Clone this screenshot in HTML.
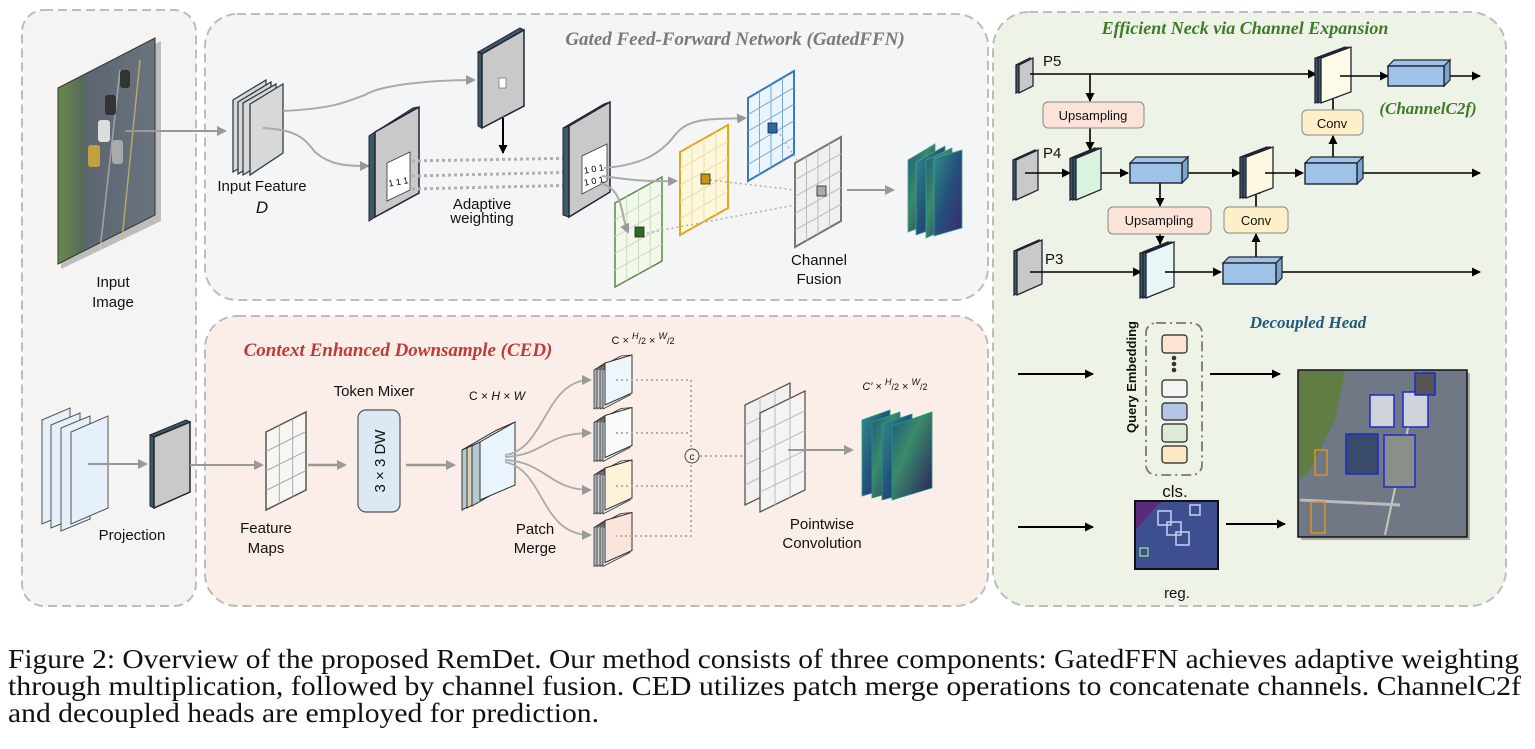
<!DOCTYPE html>
<html><head><meta charset="utf-8">
<style>
html,body{margin:0;padding:0;background:#fff;}
svg{display:block;}
text{font-family:"Liberation Sans",Arial,sans-serif;}
.t16{font-size:15px;fill:#111;}
text.ser,.ser text{font-family:"Liberation Serif","Times New Roman",serif;}
</style></head>
<body>
<svg id="s" width="1535" height="749" viewBox="0 0 1535 749" xmlns="http://www.w3.org/2000/svg">
<defs>
<marker id="ag" markerWidth="10" markerHeight="10" refX="8" refY="5" orient="auto" markerUnits="userSpaceOnUse"><path d="M0,0 L10,5 L0,10 z" fill="#999"/></marker>
<marker id="ab" markerWidth="9" markerHeight="9" refX="8" refY="4.5" orient="auto" markerUnits="userSpaceOnUse"><path d="M0,0 L9,4.5 L0,9 z" fill="#000"/></marker>
<linearGradient id="fm" x1="0" y1="0" x2="1" y2="1"><stop offset="0" stop-color="#2f8f8a"/><stop offset="0.5" stop-color="#24507a"/><stop offset="1" stop-color="#3a2a70"/></linearGradient>
<linearGradient id="fm2" x1="0" y1="0" x2="1" y2="1"><stop offset="0" stop-color="#1d5a7c"/><stop offset="0.4" stop-color="#3a8a6a"/><stop offset="1" stop-color="#2a1f60"/></linearGradient>
<linearGradient id="img" x1="0" y1="0" x2="1" y2="0"><stop offset="0" stop-color="#6b8a4a"/><stop offset="0.25" stop-color="#566a5a"/><stop offset="0.3" stop-color="#5d6670"/><stop offset="1" stop-color="#6a737e"/></linearGradient>
</defs>

<rect x="22" y="10" width="174" height="596" rx="22" fill="#f5f4f2" stroke="#bdbdbd" stroke-width="2" stroke-dasharray="9,5"/>
<rect x="205" y="14" width="783" height="286" rx="32" fill="#f4f5f7" stroke="#bdbdbd" stroke-width="2" stroke-dasharray="9,5"/>
<rect x="205" y="316" width="783" height="290" rx="32" fill="#fbeee8" stroke="#bdbdbd" stroke-width="2" stroke-dasharray="9,5"/>
<rect x="993" y="12" width="513" height="594" rx="36" fill="#eef3e8" stroke="#bdbdbd" stroke-width="2" stroke-dasharray="9,5"/>

<polygon points="58,88 158,38 158,218 58,266" fill="#555" opacity="0.35" transform="translate(3,3)"/>
<polygon points="58,88 155,38 155,215 58,264" fill="url(#img)" stroke="#333" stroke-width="1"/>
<line x1="120" y1="70" x2="100" y2="250" stroke="#ccc" stroke-width="1.5" opacity="0.6"/>
<line x1="140" y1="60" x2="122" y2="240" stroke="#d8c070" stroke-width="1.5" opacity="0.7"/>
<rect x="98" y="120" width="12" height="22" rx="3" fill="#ddd"/>
<rect x="105" y="95" width="11" height="20" rx="3" fill="#333"/>
<rect x="88" y="145" width="12" height="22" rx="3" fill="#c0a040"/>
<rect x="112" y="140" width="11" height="24" rx="3" fill="#aaa"/>
<rect x="120" y="70" width="10" height="18" rx="3" fill="#333"/>
<line x1="125" y1="131" x2="225" y2="131" stroke="#999" stroke-width="2" marker-end="url(#ag)"/>
<text x="113" y="287" class="t16" text-anchor="middle">Input</text>
<text x="113" y="307" class="t16" text-anchor="middle">Image</text>
<g fill="#e6f0fb" stroke="#555" stroke-width="1">
<polygon points="42,420 70,408 70,512 42,524"/>
<polygon points="51,425 80,413 80,516 51,528"/>
<polygon points="61,428 90,416 90,519 61,531"/>
<polygon points="71,432 108,416 108,508 71,524"/>
</g>
<line x1="88" y1="464" x2="146" y2="464" stroke="#999" stroke-width="2" marker-end="url(#ag)"/>
<polygon points="150,435 186,420 190,422 154,437" fill="#3c5a66" stroke="#223"/>
<polygon points="150,435 154,437 154,508 150,506" fill="#3c5a66" stroke="#223"/>
<polygon points="154,437 190,422 190,492 154,508" fill="#c9c9c9" stroke="#223" stroke-width="1.5"/>
<line x1="190" y1="465" x2="262" y2="465" stroke="#999" stroke-width="2" marker-end="url(#ag)"/>
<text x="132" y="540" class="t16" text-anchor="middle">Projection</text>

<text x="735" y="45" class="ser" font-size="19" font-style="italic" font-weight="bold" fill="#7a7a7a" text-anchor="middle">Gated Feed-Forward Network (GatedFFN)</text>
<g fill="#d8d8d8" stroke="#2f3e46" stroke-width="1.3">
<polygon points="233,100 266,80 266,152 233,172"/>
<polygon points="238,102 271,82 271,154 238,174"/>
<polygon points="243,103 276,84 276,155 243,175"/>
<polygon points="250,104 283,84 283,153 250,175"/>
</g>
<text x="262" y="191" class="t16" text-anchor="middle" font-size="13">Input Feature</text>
<text x="262" y="213" font-size="17" font-style="italic" text-anchor="middle" fill="#111">D</text>
<path d="M283,111 C340,108 350,100 365,95 C380,85 430,80 474,80" fill="none" stroke="#aaa" stroke-width="2" marker-end="url(#ag)"/>
<path d="M263,128 C300,130 305,140 315,152 C330,165 345,166 368,166" fill="none" stroke="#aaa" stroke-width="2" marker-end="url(#ag)"/>
<polygon points="369,136 413,108 419,107 375,132" fill="#3c5a66" stroke="#223"/>
<polygon points="369,136 375,132 375,217 369,221" fill="#3c5a66" stroke="#223"/>
<polygon points="375,132 419,107 419,193 375,217" fill="#c9c9c9" stroke="#223" stroke-width="1.5"/>
<polygon points="387,163 410,152 410,190 387,201" fill="#fff" stroke="#333" stroke-width="0.8"/>
<text x="398" y="185" font-size="9" text-anchor="middle" fill="#000" transform="rotate(-10 398 180)">1 1 1</text>
<polygon points="478,52 520,28 524,30 482,54" fill="#3c5a66" stroke="#223"/>
<polygon points="478,52 482,54 482,128 478,126" fill="#3c5a66" stroke="#223"/>
<polygon points="482,54 524,30 524,106 482,128" fill="#c9c9c9" stroke="#223" stroke-width="1.5"/>
<rect x="499" y="78" width="7" height="10" fill="#fff" stroke="#555" stroke-width="0.6"/>
<line x1="503" y1="118" x2="503" y2="153" stroke="#000" stroke-width="2" marker-end="url(#ab)"/>
<g stroke="#b0b0b0" stroke-width="3" stroke-dasharray="3,3">
<line x1="412" y1="161" x2="582" y2="158"/>
<line x1="412" y1="176" x2="582" y2="172"/>
<line x1="412" y1="189" x2="582" y2="185"/>
</g>
<text x="482" y="209" class="t16" text-anchor="middle" font-size="13">Adaptive</text>
<text x="482" y="223" class="t16" text-anchor="middle" font-size="13">weighting</text>
<polygon points="563,128 604,104 610,102 569,126" fill="#3c5a66" stroke="#223"/>
<polygon points="563,128 569,126 569,217 563,215" fill="#3c5a66" stroke="#223"/>
<polygon points="569,126 610,102 610,192 569,217" fill="#c9c9c9" stroke="#223" stroke-width="1.5"/>
<polygon points="582,156 607,144 607,181 582,194" fill="#fff" stroke="#333" stroke-width="0.8"/>
<text x="594" y="172" font-size="9" text-anchor="middle" transform="rotate(-10 594 170)">1 0 1</text>
<text x="594" y="184" font-size="9" text-anchor="middle" transform="rotate(-10 594 182)">1 0 1</text>
<g id="grids"></g>
<path d="M604,168 C640,165 660,155 675,135 C690,115 720,120 745,118" fill="none" stroke="#aaa" stroke-width="2" marker-end="url(#ag)"/>
<path d="M602,176 C630,180 650,182 676,181" fill="none" stroke="#aaa" stroke-width="2" marker-end="url(#ag)"/>
<path d="M600,183 C625,190 620,215 628,232" fill="none" stroke="#aaa" stroke-width="2" marker-end="url(#ag)"/>
<g stroke="#b0b0b0" stroke-width="1.5" stroke-dasharray="2,3" fill="none">
<line x1="642" y1="234" x2="795" y2="205"/>
<line x1="710" y1="180" x2="795" y2="190"/>
<line x1="777" y1="130" x2="797" y2="160"/>
</g>
<rect x="635" y="227" width="9" height="10" fill="#2f6b25" stroke="#222" stroke-width="0.8"/>
<rect x="701" y="174" width="9" height="10" fill="#c8960a" stroke="#222" stroke-width="0.8"/>
<rect x="768" y="123" width="9" height="10" fill="#2a6aa8" stroke="#222" stroke-width="0.8"/>
<rect x="817" y="186" width="9" height="10" fill="#aaa" stroke="#222" stroke-width="0.8"/>
<text x="819" y="265" class="t16" text-anchor="middle" font-size="14">Channel</text>
<text x="819" y="284" class="t16" text-anchor="middle" font-size="14">Fusion</text>
<line x1="847" y1="190" x2="893" y2="190" stroke="#999" stroke-width="2" marker-end="url(#ag)"/>
<g stroke="#3aa58f" stroke-width="0.8">
<polygon points="908,160 935,144 935,222 908,232" fill="url(#fm2)"/>
<polygon points="916,162 945,146 945,225 916,235" fill="url(#fm)"/>
<polygon points="926,160 952,148 952,226 926,238" fill="url(#fm2)"/>
<polygon points="934,158 962,150 962,228 934,236" fill="url(#fm)"/>
</g>

<text x="398" y="356" class="ser" font-size="19" font-style="italic" font-weight="bold" fill="#c0393b" text-anchor="middle">Context Enhanced Downsample (CED)</text>
<text x="374" y="396" class="t16" text-anchor="middle" font-size="14">Token Mixer</text>
<line x1="308" y1="465" x2="345" y2="465" stroke="#999" stroke-width="2.5" marker-end="url(#ag)"/>
<rect x="358" y="410" width="42" height="102" rx="8" fill="#dce9f5" stroke="#555" stroke-width="1.2"/>
<text x="0" y="0" font-size="15" fill="#111" text-anchor="middle" transform="translate(385 461) rotate(-90)">3 × 3 DW</text>
<line x1="406" y1="465" x2="454" y2="465" stroke="#999" stroke-width="2.5" marker-end="url(#ag)"/>
<text x="266" y="533" class="t16" text-anchor="middle" font-size="15">Feature</text>
<text x="266" y="553" class="t16" text-anchor="middle" font-size="15">Maps</text>
<g stroke="#333" stroke-width="1">
<polygon points="462,450 497,430 497,490 462,510" fill="#b8c8d0"/>
<polygon points="467,448 502,428 502,488 467,508" fill="#d8d0b8"/>
<polygon points="472,446 507,426 507,486 472,506" fill="#b8c8d0"/>
<polygon points="462,450 497,430 515,422 480,442" fill="#f2f2ea"/>
<polygon points="480,442 515,422 515,485 480,500" fill="#eaf4fc"/>
</g>
<text x="497" y="400" font-size="12" text-anchor="middle" fill="#111">C × <tspan font-style="italic">H</tspan> × <tspan font-style="italic">W</tspan></text>
<text x="643" y="344" font-size="11" text-anchor="middle" fill="#111">C × <tspan font-style="italic" font-size="9" dy="-5">H</tspan><tspan font-size="9" dy="5">/2</tspan> × <tspan font-style="italic" font-size="9" dy="-5">W</tspan><tspan font-size="9" dy="5">/2</tspan></text>
<g id="smallstacks"></g>
<path d="M505,455 C545,450 545,380 590,380" fill="none" stroke="#aaa" stroke-width="1.8" marker-end="url(#ag)"/>
<path d="M505,457 C545,455 545,433 590,433" fill="none" stroke="#aaa" stroke-width="1.8" marker-end="url(#ag)"/>
<path d="M505,460 C545,462 550,490 590,490" fill="none" stroke="#aaa" stroke-width="1.8" marker-end="url(#ag)"/>
<path d="M505,462 C545,470 540,535 590,535" fill="none" stroke="#aaa" stroke-width="1.8" marker-end="url(#ag)"/>
<g stroke="#b0b0b0" stroke-width="2" stroke-dasharray="2,3" fill="none">
<path d="M616,380 H691 V536 H616 M616,433 H691 M616,486 H691 M700,456 H745"/>
</g>
<circle cx="692" cy="456" r="7" fill="#fbeee8" stroke="#444" stroke-width="1"/>
<text x="692" y="460" font-size="10" text-anchor="middle" fill="#222">c</text>
<text x="535" y="534" class="t16" text-anchor="middle" font-size="14">Patch</text>
<text x="535" y="553" class="t16" text-anchor="middle" font-size="14">Merge</text>
<line x1="788" y1="450" x2="852" y2="450" stroke="#999" stroke-width="2" marker-end="url(#ag)"/>
<g stroke="#1d9a8a" stroke-width="0.8">
<polygon points="862,420 890,410 890,488 862,496" fill="url(#fm)"/>
<polygon points="872,422 900,412 900,490 872,498" fill="url(#fm2)"/>
<polygon points="882,424 912,414 912,492 882,500" fill="url(#fm)"/>
<polygon points="892,426 932,412 932,488 892,500" fill="url(#fm2)"/>
</g>
<text x="895" y="390" font-size="11" text-anchor="middle" fill="#111"><tspan font-style="italic">C′</tspan> × <tspan font-style="italic" font-size="9" dy="-5">H</tspan><tspan font-size="9" dy="5">/2</tspan> × <tspan font-style="italic" font-size="9" dy="-5">W</tspan><tspan font-size="9" dy="5">/2</tspan></text>
<text x="822" y="529" class="t16" text-anchor="middle" font-size="14">Pointwise</text>
<text x="822" y="548" class="t16" text-anchor="middle" font-size="14">Convolution</text>

<text x="1245" y="34" class="ser" font-size="18" font-style="italic" font-weight="bold" fill="#3e7a2a" text-anchor="middle">Efficient Neck via Channel Expansion</text>
<g id="neck"></g>
<text x="1043" y="66" font-size="15" fill="#111">P5</text>
<text x="1043" y="158" font-size="15" fill="#111">P4</text>
<text x="1045" y="264" font-size="15" fill="#111">P3</text>
<rect x="1043" y="102" width="101" height="26" rx="5" fill="#fbe3d8" stroke="#888"/>
<text x="1093" y="120" font-size="13" text-anchor="middle" fill="#111">Upsampling</text>
<rect x="1108" y="207" width="103" height="27" rx="5" fill="#fbe3d8" stroke="#888"/>
<text x="1159" y="225" font-size="13" text-anchor="middle" fill="#111">Upsampling</text>
<rect x="1302" y="110" width="61" height="25" rx="5" fill="#fdf0c8" stroke="#888"/>
<text x="1332" y="128" font-size="13" text-anchor="middle" fill="#111">Conv</text>
<rect x="1224" y="207" width="64" height="26" rx="5" fill="#fdf0c8" stroke="#888"/>
<text x="1256" y="225" font-size="13" text-anchor="middle" fill="#111">Conv</text>
<text x="1428" y="114" class="ser" font-size="17" font-style="italic" font-weight="bold" fill="#3e7a2a" text-anchor="middle">(ChannelC2f)</text>

<text x="1308" y="328" class="ser" font-size="17" font-style="italic" font-weight="bold" fill="#1f5a7a" text-anchor="middle">Decoupled Head</text>
<line x1="1018" y1="374" x2="1093" y2="374" stroke="#000" stroke-width="2" marker-end="url(#ab)"/>
<line x1="1018" y1="527" x2="1093" y2="527" stroke="#000" stroke-width="2" marker-end="url(#ab)"/>
<text x="0" y="0" font-size="13" font-weight="bold" fill="#111" text-anchor="middle" transform="translate(1136 377) rotate(-90)">Query Embedding</text>
<rect x="1146" y="323" width="56" height="152" rx="10" fill="none" stroke="#777" stroke-width="1.8" stroke-dasharray="10,4,2,4"/>
<rect x="1162" y="335" width="25" height="18" rx="3" fill="#fce3d4" stroke="#222" stroke-width="1.2"/>
<circle cx="1174" cy="358" r="2.3" fill="#333"/><circle cx="1174" cy="364" r="2.3" fill="#333"/><circle cx="1174" cy="370" r="2.3" fill="#333"/>
<rect x="1162" y="380" width="25" height="17" rx="3" fill="#f2f6f4" stroke="#222" stroke-width="1.2"/>
<rect x="1162" y="403" width="25" height="17" rx="3" fill="#b4c4e4" stroke="#222" stroke-width="1.2"/>
<rect x="1162" y="424" width="25" height="18" rx="3" fill="#dcebd8" stroke="#222" stroke-width="1.2"/>
<rect x="1162" y="446" width="25" height="17" rx="3" fill="#fce8c4" stroke="#222" stroke-width="1.2"/>
<text x="1175" y="497" font-size="17" text-anchor="middle" fill="#111">cls.</text>
<line x1="1210" y1="374" x2="1280" y2="374" stroke="#000" stroke-width="2" marker-end="url(#ab)"/>
<line x1="1226" y1="524" x2="1285" y2="524" stroke="#000" stroke-width="2" marker-end="url(#ab)"/>
<rect x="1135" y="501" width="83" height="68" fill="#3d4f8f" stroke="#111" stroke-width="2"/>
<polygon points="1136,502 1160,502 1136,530" fill="#5a2a7a"/>
<g fill="none" stroke="#c8d0f4" stroke-width="1.5">
<rect x="1158" y="511" width="13" height="14"/><rect x="1167" y="522" width="14" height="13"/><rect x="1176" y="532" width="13" height="13"/><rect x="1190" y="505" width="10" height="10"/>
</g>
<rect x="1140" y="548" width="8" height="8" fill="none" stroke="#8c8" stroke-width="1.5"/>
<text x="1177" y="598" font-size="15" text-anchor="middle" fill="#111">reg.</text>
<rect x="1301" y="373" width="169" height="167" fill="#444" opacity="0.4"/>
<rect x="1298" y="370" width="169" height="167" fill="#6f7884" stroke="#111" stroke-width="1.5"/>
<polygon points="1299,371 1345,371 1335,420 1310,470 1299,480" fill="#5f7d45"/>
<line x1="1420" y1="372" x2="1385" y2="535" stroke="#c9c9b0" stroke-width="2"/>
<line x1="1300" y1="500" x2="1400" y2="505" stroke="#bbb" stroke-width="3"/>
<g fill="#d0d4da" stroke="#1a2ad0" stroke-width="1.5">
<rect x="1370" y="395" width="24" height="32"/><rect x="1403" y="392" width="25" height="35"/><rect x="1346" y="434" width="32" height="40" fill="#3a4a6a"/><rect x="1384" y="435" width="31" height="52" fill="#8a8f8a"/><rect x="1415" y="373" width="20" height="22" fill="#555"/>
</g>
<g fill="none" stroke="#e09020" stroke-width="1.5"><rect x="1315" y="450" width="12" height="25"/><rect x="1311" y="502" width="14" height="31"/></g>

<g font-size="27" fill="#111">
<text x="8" y="668" class="ser" font-size="27" textLength="1511" lengthAdjust="spacingAndGlyphs">Figure 2: Overview of the proposed RemDet. Our method consists of three components: GatedFFN achieves adaptive weighting</text>
<text x="8" y="695" class="ser" font-size="27" textLength="1513" lengthAdjust="spacingAndGlyphs">through multiplication, followed by channel fusion. CED utilizes patch merge operations to concatenate channels. ChannelC2f</text>
<text x="8" y="722" class="ser" font-size="27" textLength="591" lengthAdjust="spacingAndGlyphs">and decoupled heads are employed for prediction.</text>
</g>
</svg>
<script>
(function(){
var NS="http://www.w3.org/2000/svg";
function el(p,t,a){var e=document.createElementNS(NS,t);for(var k in a)e.setAttribute(k,a[k]);p.appendChild(e);return e;}
function grid(p,TL,TR,BL,nc,nr,stroke,fill,lc,sw){
 var BR=[TR[0]+BL[0]-TL[0],TR[1]+BL[1]-TL[1]];
 el(p,"polygon",{points:[TL,TR,BR,BL].map(function(q){return q.join(",")}).join(" "),fill:fill,stroke:stroke,"stroke-width":sw||2});
 var d="";
 for(var i=1;i<nc;i++){var f=i/nc;d+="M"+(TL[0]+(TR[0]-TL[0])*f)+","+(TL[1]+(TR[1]-TL[1])*f)+"L"+(BL[0]+(TR[0]-TL[0])*f)+","+(BL[1]+(TR[1]-TL[1])*f);}
 for(var j=1;j<nr;j++){var g=j/nr;d+="M"+(TL[0]+(BL[0]-TL[0])*g)+","+(TL[1]+(BL[1]-TL[1])*g)+"L"+(TR[0]+(BL[0]-TL[0])*g)+","+(TR[1]+(BL[1]-TL[1])*g);}
 el(p,"path",{d:d,stroke:lc,"stroke-width":1,fill:"none"});
}
var g=document.getElementById("grids");
grid(g,[615,203],[662,177],[615,287],4,5,"#5a8a45","#f2f8ea","#c8dcc0",1.5);
grid(g,[680,152],[728,125],[680,235],4,5,"#e0a820","#fdf7dc","#ecdcaa",2);
grid(g,[748,98],[794,71],[748,181],4,5,"#3a7ab8","#eaf4fc","#7aaad8",2);
grid(g,[795,163],[841,137],[795,247],4,5,"#777","#f0f0ee","#bbb",2);
var root=document.getElementById("s");
var ced=el(root,"g",{});
root.insertBefore(ced,document.getElementById("smallstacks"));
grid(ced,[266,432],[306,412],[266,510],3,4,"#555","#f8f6f2","#aaa",1.5);
grid(ced,[745,405],[790,383],[745,505],3,5,"#555","#f2f0ee","#bbb",1.3);
grid(ced,[760,413],[805,391],[760,512],3,5,"#555","#f6f4f2","#bbb",1.3);
var ss=document.getElementById("smallstacks");
var cols=["#eef6fc","#fafafa","#fdf3d8","#fbe4dc"];
for(var k=0;k<4;k++){var o=k*52.5;
 var back=["#a8b8c4","#d4ccb8","#a8b8c4","#e4ecf0"];
 for(var m=0;m<4;m++){var x=594+m*3;el(ss,"polygon",{points:(x)+","+(370+o)+" "+(x+27)+","+(356+o)+" "+(x+27)+","+(395+o)+" "+(x)+","+(409+o),fill:back[m],stroke:"#333","stroke-width":0.8});}
 el(ss,"polygon",{points:"594,"+(370+o)+" 621,"+(356+o)+" 632,"+(355+o)+" 605,"+(363+o),fill:"#eee",stroke:"#333","stroke-width":0.8});
 el(ss,"polygon",{points:"605,"+(363+o)+" 632,"+(355+o)+" 632,"+(393+o)+" 605,"+(405+o),fill:cols[k],stroke:"#333","stroke-width":1});
}
var n=document.getElementById("neck");
function L(x1,y1,x2,y2,arr){el(n,"line",{x1:x1,y1:y1,x2:x2,y2:y2,stroke:"#000","stroke-width":1.6,"marker-end":arr?"url(#ab)":""});}
function slab(x,y,w,h,fill,sheets){
 for(var m=sheets-1;m>=0;m--){var xx=x-m*3;el(n,"polygon",{points:xx+","+(y+h*0.2)+" "+(xx+w)+","+y+" "+(xx+w)+","+(y+h*0.8)+" "+xx+","+(y+h),fill:m?"#3c5a66":fill,stroke:"#223","stroke-width":1.3});}
}
function box(x,y,w,h){
 el(n,"polygon",{points:x+","+(y+6)+" "+(x+6)+","+y+" "+(x+w)+","+y+" "+(x+w-6)+","+(y+6),fill:"#9dc3e6",stroke:"#223","stroke-width":1.2});
 el(n,"polygon",{points:(x+w-6)+","+(y+6)+" "+(x+w)+","+y+" "+(x+w)+","+(y+h-6)+" "+(x+w-6)+","+(y+h),fill:"#7aa6cc",stroke:"#223","stroke-width":1.2});
 el(n,"rect",{x:x,y:y+6,width:w-6,height:h-6,fill:"#9dc3e6",stroke:"#223","stroke-width":1.4});
}
slab(1019,58,14,35,"#c9c9c9",2);
slab(1016,150,22,50,"#c9c9c9",2);
slab(1017,240,25,55,"#c9c9c9",2);
L(1030,74,1316,74,1);L(1090,74,1090,101,1);L(1090,128,1090,150,1);
L(1025,173,1070,173,1);L(1090,173,1128,173,1);L(1188,173,1240,173,1);L(1363,173,1480,173,1);
L(1160,183,1160,206,1);L(1160,234,1160,244,1);
L(1030,272,1141,272,1);L(1282,272,1480,272,1);
L(1256,258,1256,234,1);L(1256,207,1256,186,1);
L(1333,157,1333,136,1);L(1333,110,1333,90,1);
slab(1321,47,30,56,"#fdfbe6",3);
slab(1076,148,25,52,"#d8f4e0",3);
slab(1246,147,27,51,"#fdf8e0",3);
slab(1146,242,28,56,"#e8f6f6",3);
L(1340,76,1388,76,1);L(1265,173,1303,173,1);L(1165,272,1221,272,1);
box(1388,60,62,26);box(1130,157,58,26);box(1305,157,58,27);box(1223,257,59,27);
L(1450,76,1480,76,1);
})();
</script>
</body></html>
